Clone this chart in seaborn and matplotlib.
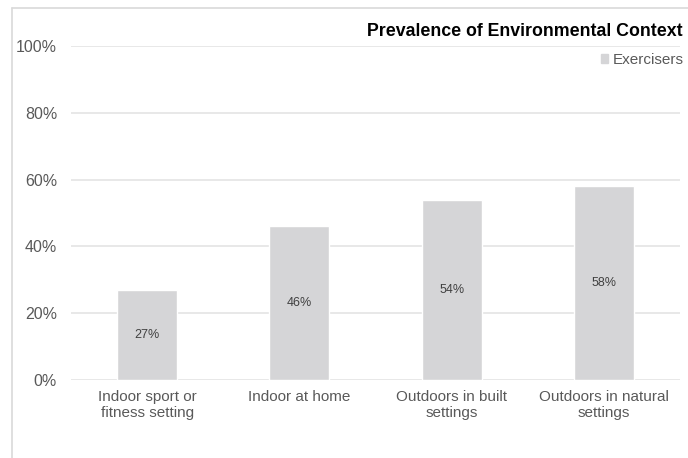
import matplotlib
matplotlib.use("Agg")
import matplotlib.pyplot as plt
from matplotlib.lines import Line2D
from matplotlib.patches import Patch
import seaborn as sns
import pandas as pd

categories = ["Indoor sport or\nfitness setting", "Indoor at home",
              "Outdoors in built\nsettings", "Outdoors in natural\nsettings"]
values = [0.27, 0.46, 0.54, 0.58]
value_labels = ["27%", "46%", "54%", "58%"]
yticks = [0.0, 0.2, 0.4, 0.6, 0.8, 1.0]
ytick_labels = ["0%", "20%", "40%", "60%", "80%", "100%"]
series_name = "Exercisers"
title = "Prevalence of Environmental Context"

sns.set_theme(style="white")
plt.rcParams["font.family"] = ["Liberation Sans", "DejaVu Sans"]

bar_color = "#d5d5d7"
text_gray = "#595959"
grid_gray = "#e4e4e4"

W, H = 688, 458
fig = plt.figure(figsize=(W / 100, H / 100), dpi=100)
ax = fig.add_axes([71 / W, 1 - 380 / H, (680 - 71) / W, (380 - 46) / H])

df = pd.DataFrame({"category": categories, "value": values})
sns.barplot(data=df, x="category", y="value", color=bar_color,
            width=0.395, saturation=1, ax=ax, zorder=3)

ax.set_ylim(0, 1)
ax.set_xlim(-0.5, len(categories) - 0.5)
ax.set_yticks(yticks)
ax.set_yticklabels(ytick_labels, color=text_gray, fontsize=11.5)
ax.set_xticklabels(categories, color=text_gray, fontsize=11, linespacing=1.2)
ax.tick_params(axis="y", length=0, pad=10)
ax.tick_params(axis="x", length=0, pad=7)
ax.set_xlabel("")
ax.set_ylabel("")
ax.yaxis.grid(True, color=grid_gray, linewidth=1.2, zorder=0)
for s in ax.spines.values():
    s.set_visible(False)

for p, lab in zip(ax.patches, value_labels):
    ax.text(p.get_x() + p.get_width() / 2, p.get_height() / 2, lab,
            ha="center", va="center", fontsize=9, color="#404040", zorder=4)

# outer chart frame
fy = 1 - 8 / H
fx = 12 / W
fig.add_artist(Line2D([fx, fx], [0, fy], color="#d9d9d9", linewidth=1.2))
fig.add_artist(Line2D([fx, 1], [fy, fy], color="#d9d9d9", linewidth=1.2))

fig.text(683 / W, 1 - 32 / H, title, ha="right", va="center",
         fontsize=12.8, fontweight="bold", color="#000000")

ax.legend(handles=[Patch(color=bar_color, label=series_name)],
          loc="center right", bbox_to_anchor=(684 / W, 1 - 60 / H),
          bbox_transform=fig.transFigure, frameon=False, fontsize=11,
          labelcolor=text_gray, handlelength=0.5, handleheight=0.5,
          handletextpad=0.3, borderpad=0, borderaxespad=0)

fig.savefig("out.png", dpi=100)
